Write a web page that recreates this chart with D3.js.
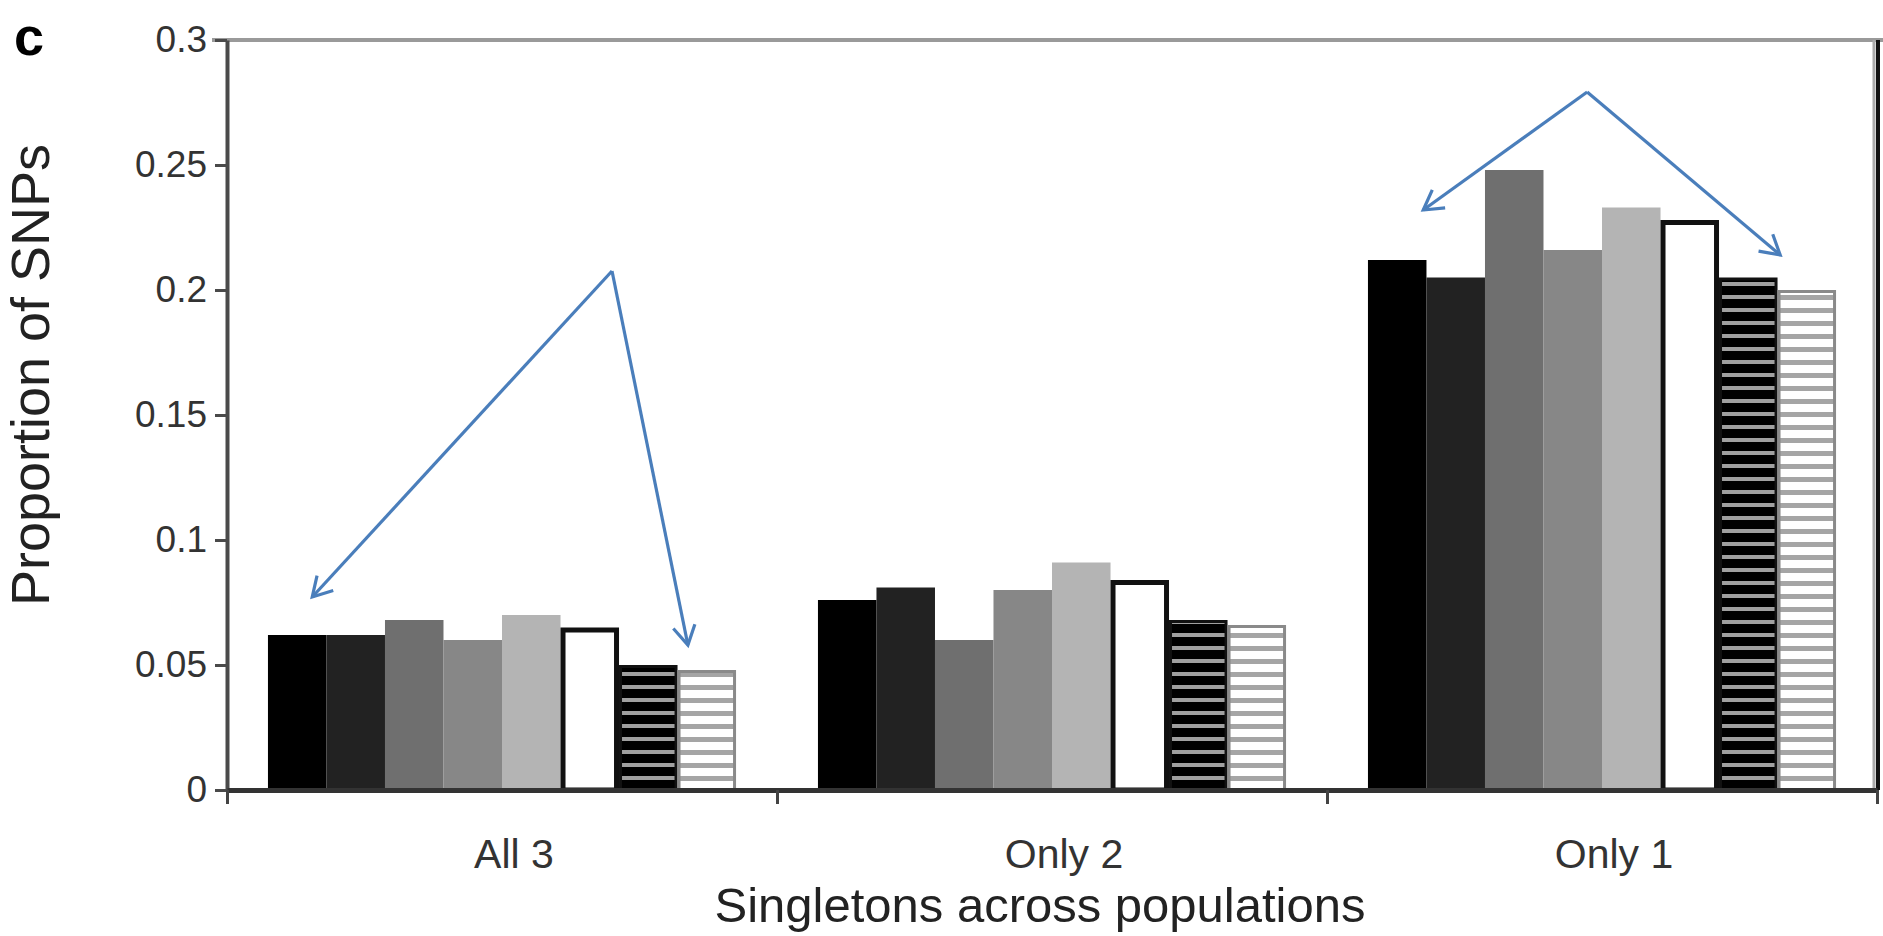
<!DOCTYPE html>
<html>
<head>
<meta charset="utf-8">
<script src="https://cdn.jsdelivr.net/npm/d3@7"></script>
<style>
  html, body { margin: 0; padding: 0; background: #fff; }
  svg text { font-family: "Liberation Sans", Arial, sans-serif; }
</style>
</head>
<body>
<div id="chart"></div>
<script>
// values
let categories = ["All 3", "Only 2", "Only 1"];
let seriesNames = ["s1", "s2", "s3", "s4", "s5", "s6", "s7", "s8"];
let all3Values = [0.062, 0.062, 0.068, 0.060, 0.070, 0.065, 0.050, 0.048];
let only2Values = [0.076, 0.081, 0.060, 0.080, 0.091, 0.084, 0.068, 0.066];
let only1Values = [0.212, 0.205, 0.248, 0.216, 0.233, 0.228, 0.205, 0.200];
let yTickValues = [0, 0.05, 0.1, 0.15, 0.2, 0.25, 0.3];
let yTickLabels = ["0", "0.05", "0.1", "0.15", "0.2", "0.25", "0.3"];

// arrow annotations: apex and two heads, x as fraction of the category band
let arrowCategory = ["All 3", "Only 1"];
let arrowApex = [[0.700, 0.2076], [0.473, 0.2792]];
let arrowHeadA = [[0.155, 0.0772], [0.175, 0.232]];
let arrowHeadB = [[0.838, 0.058], [0.824, 0.214]];

let svgWidth = 1883;
let svgHeight = 936;

let margin = {
  top: 40,
  right: 6,
  bottom: 146,
  left: 227
};

let chartWidth = svgWidth - margin.left - margin.right;
let chartHeight = svgHeight - margin.top - margin.bottom;

let svg = d3.select("#chart")
  .append("svg")
  .attr("width", svgWidth)
  .attr("height", svgHeight);

let defs = svg.append("defs");

// black with grey stripes
let p1 = defs.append("pattern")
  .attr("id", "stripeDark")
  .attr("patternUnits", "userSpaceOnUse")
  .attr("width", 20).attr("height", 13);
p1.append("rect").attr("width", 20).attr("height", 13).attr("fill", "#000");
p1.append("rect").attr("y", 8).attr("width", 20).attr("height", 4).attr("fill", "#a0a0a0");

// white with grey stripes
let p2 = defs.append("pattern")
  .attr("id", "stripeLight")
  .attr("patternUnits", "userSpaceOnUse")
  .attr("width", 20).attr("height", 13);
p2.append("rect").attr("width", 20).attr("height", 13).attr("fill", "#fff");
p2.append("rect").attr("y", 8).attr("width", 20).attr("height", 5).attr("fill", "#a5a5a5");

let fills = ["#000", "#222", "#6f6f6f", "#878787", "#b4b4b4", "#fff", "url(#stripeDark)", "url(#stripeLight)"];
let strokes = [null, null, null, null, null, "#111", "#111", "#8a8a8a"];
let strokeWidths = [0, 0, 0, 0, 0, 5, 3, 3];

let data = categories.map((c, i) => ({
  category: c,
  values: [all3Values, only2Values, only1Values][i]
}));

let chartGroup = svg.append("g")
  .attr("transform", `translate(${margin.left}, ${margin.top})`);

let x0 = d3.scaleBand()
  .domain(categories)
  .range([0, chartWidth])
  .padding(0);

let x1 = d3.scaleBand()
  .domain(seriesNames)
  .range([0, x0.bandwidth()])
  .paddingInner(0)
  .paddingOuter(0.7);

let xEdge = d3.scaleLinear()
  .domain([0, categories.length])
  .range([0, chartWidth]);

let y = d3.scaleLinear()
  .domain([0, 0.3])
  .range([chartHeight, 0]);

// frame: grey top line and right border
chartGroup.append("line")
  .attr("x1", -15).attr("x2", chartWidth + margin.right)
  .attr("y1", y(0.3)).attr("y2", y(0.3))
  .attr("stroke", "#9a9a9a").attr("stroke-width", 4);
chartGroup.append("line")
  .attr("x1", chartWidth - 3).attr("x2", chartWidth - 3)
  .attr("y1", y(0.3)).attr("y2", y(0))
  .attr("stroke", "#aaa").attr("stroke-width", 3);
chartGroup.append("line")
  .attr("x1", chartWidth + 1).attr("x2", chartWidth + 1)
  .attr("y1", y(0.3)).attr("y2", y(0))
  .attr("stroke", "#111").attr("stroke-width", 4);

// bars
let groups = chartGroup.selectAll(".grp")
  .data(data)
  .enter()
  .append("g")
  .attr("class", "grp")
  .attr("transform", d => `translate(${x0(d.category)}, 0)`);

groups.selectAll("rect")
  .data(d => d.values.map((v, i) => ({ key: seriesNames[i], value: v, idx: i })))
  .enter()
  .append("rect")
  .attr("x", d => x1(d.key) + strokeWidths[d.idx] / 2)
  .attr("y", d => y(d.value) + strokeWidths[d.idx] / 2)
  .attr("width", d => x1.bandwidth() - strokeWidths[d.idx])
  .attr("height", d => y(0) - y(d.value) - strokeWidths[d.idx] / 2)
  .attr("fill", d => fills[d.idx])
  .attr("stroke", d => strokes[d.idx] || "none")
  .attr("stroke-width", d => strokeWidths[d.idx]);

// y axis
let leftAxis = d3.axisLeft(y)
  .tickValues(yTickValues)
  .tickFormat((d, i) => yTickLabels[i])
  .tickSizeInner(12)
  .tickSizeOuter(0)
  .tickPadding(8);

let yAxisG = chartGroup.append("g").call(leftAxis);
yAxisG.select(".domain").attr("stroke", "#4a4a4a").attr("stroke-width", 4);
yAxisG.selectAll(".tick line").attr("stroke", "#4a4a4a").attr("stroke-width", 3);
yAxisG.selectAll(".tick text")
  .attr("font-size", "37px")
  .attr("fill", "#333");

// x axis: ticks at category boundaries
let bottomAxis = d3.axisBottom(xEdge)
  .tickValues(d3.range(categories.length + 1))
  .tickFormat("")
  .tickSizeInner(14)
  .tickSizeOuter(0);

let xAxisG = chartGroup.append("g")
  .attr("transform", `translate(0, ${chartHeight})`)
  .call(bottomAxis);
xAxisG.select(".domain").attr("stroke", "#333").attr("stroke-width", 5);
xAxisG.selectAll(".tick line").attr("stroke", "#444").attr("stroke-width", 3);

// category labels
chartGroup.selectAll(".catLabel")
  .data(categories)
  .enter()
  .append("text")
  .attr("class", "catLabel")
  .attr("x", d => x0(d) + x0.bandwidth() / 2 + 12)
  .attr("y", chartHeight + 78)
  .attr("text-anchor", "middle")
  .attr("font-size", "41px")
  .attr("fill", "#333")
  .text(d => d);

// axis titles
chartGroup.append("text")
  .attr("transform", "rotate(-90)")
  .attr("x", -(chartHeight / 2) + 40)
  .attr("y", -margin.left + 49)
  .attr("text-anchor", "middle")
  .attr("font-size", "54px")
  .attr("fill", "#222")
  .text("Proportion of SNPs");

chartGroup.append("text")
  .attr("x", chartWidth / 2 - 12)
  .attr("y", chartHeight + 132)
  .attr("text-anchor", "middle")
  .attr("font-size", "49px")
  .attr("fill", "#222")
  .text("Singletons across populations");

// panel letter
svg.append("text")
  .attr("x", 14)
  .attr("y", 55)
  .attr("font-size", "54px")
  .attr("font-weight", "bold")
  .attr("fill", "#000")
  .text("c");

// arrows
let arrowColor = "#4a7ebb";
function ax(cat, f) { return x0(cat) + f * x0.bandwidth(); }

arrowCategory.forEach(function(cat, i) {
  let apex = [ax(cat, arrowApex[i][0]), y(arrowApex[i][1])];
  [arrowHeadA[i], arrowHeadB[i]].forEach(function(h) {
    let tip = [ax(cat, h[0]), y(h[1])];
    chartGroup.append("line")
      .attr("x1", apex[0]).attr("y1", apex[1])
      .attr("x2", tip[0]).attr("y2", tip[1])
      .attr("stroke", arrowColor).attr("stroke-width", 3.2);
    let ang = Math.atan2(apex[1] - tip[1], apex[0] - tip[0]);
    let len = 22, spread = Math.PI / 6;
    let pts = [
      [tip[0] + len * Math.cos(ang - spread), tip[1] + len * Math.sin(ang - spread)],
      tip,
      [tip[0] + len * Math.cos(ang + spread), tip[1] + len * Math.sin(ang + spread)]
    ];
    chartGroup.append("path")
      .attr("d", d3.line()(pts))
      .attr("fill", "none")
      .attr("stroke", arrowColor)
      .attr("stroke-width", 3.2);
  });
});
</script>
</body>
</html>
